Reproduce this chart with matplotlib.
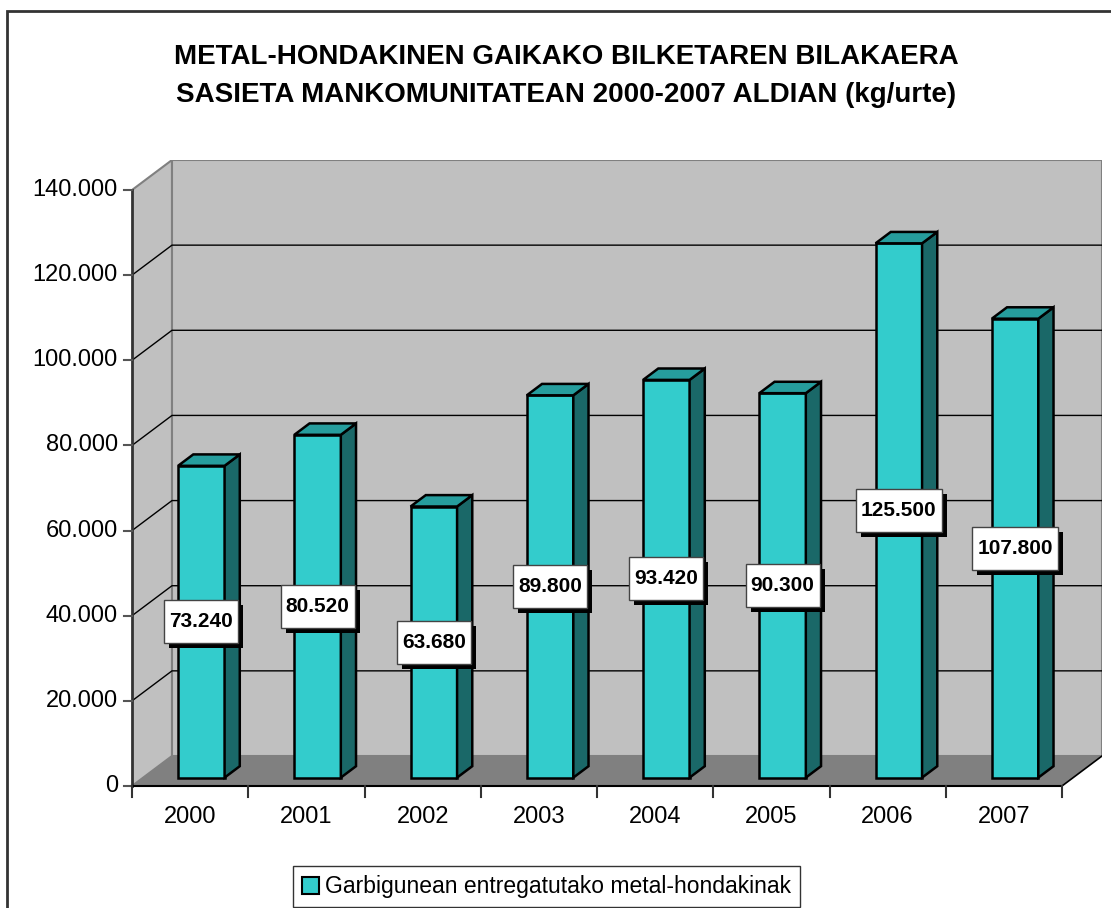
import matplotlib
matplotlib.use("Agg")
import matplotlib.pyplot as plt
from matplotlib.patches import Polygon, Rectangle
from matplotlib.patches import Patch
from matplotlib.transforms import IdentityTransform

plt.rcParams['font.family'] = ['Liberation Sans', 'DejaVu Sans']

years = ["2000", "2001", "2002", "2003", "2004", "2005", "2006", "2007"]
values = [73240, 80520, 63680, 89800, 93420, 90300, 125500, 107800]
labels = ["73.240", "80.520", "63.680", "89.800", "93.420", "90.300", "125.500", "107.800"]
yticks = [0, 20000, 40000, 60000, 80000, 100000, 120000, 140000]
ytick_labels = ["0", "20.000", "40.000", "60.000", "80.000", "100.000", "120.000", "140.000"]
title = ("METAL-HONDAKINEN GAIKAKO BILKETAREN BILAKAERA\n"
         "SASIETA MANKOMUNITATEAN 2000-2007 ALDIAN (kg/urte)")
legend_label = "Garbigunean entregatutako metal-hondakinak"

W, H = 1111, 908
fig = plt.figure(figsize=(W / 100, H / 100), dpi=100)
fig.patch.set_facecolor("white")

# front plane: x 0..8 -> px 132..1062, y 0..140000 -> px 786..190
px_x = (1062 - 132) / 8.0
px_y = (786 - 190) / 140000.0
D = 40 / px_x          # depth shift in category units
DY = 30 / px_y         # depth shift in value units
ymax = 140000

ax = fig.add_axes([132 / W, (H - 786) / H, (970) / W, (626) / H])
ax.set_xlim(0, 8 + D)
ax.set_ylim(0, ymax + DY)
ax.axis("off")

# walls
ax.add_patch(Polygon([(0, 0), (D, DY), (D, ymax + DY), (0, ymax)],
                     closed=True, fc="#C0C0C0", ec="#808080", lw=1.5, zorder=1))
ax.add_patch(Rectangle((D, DY), 8, ymax, fc="#C0C0C0", ec="#808080", lw=1.5, zorder=1))
ax.add_patch(Polygon([(0, 0), (8, 0), (8 + D, DY), (D, DY)],
                     closed=True, fc="#808080", ec="none", zorder=1))
ax.plot([8, 8 + D], [0, DY], color="black", lw=1.2, zorder=2)

# gridlines
for t in yticks[1:-1]:
    ax.plot([0, D, 8 + D], [t, t + DY, t + DY], color="black", lw=1, zorder=2)

# axes lines and ticks
ax.plot([0, 0], [0, ymax], color="#333333", lw=2, zorder=3, clip_on=False)
ax.plot([0, 8], [0, 0], color="black", lw=1.5, zorder=3, clip_on=False)
tick_dx = 8 / px_x
for t, lab in zip(yticks, ytick_labels):
    ax.plot([-tick_dx, 0], [t, t], color="#555555", lw=1.5, clip_on=False, zorder=3)
    ax.text(-14 / px_x, t, lab, ha="right", va="center", fontsize=17, clip_on=False)
tick_dy = 11 / px_y
for i in range(9):
    ax.plot([i, i], [0, -tick_dy], color="#333333", lw=1.5, clip_on=False, zorder=3)
for i, y in enumerate(years):
    ax.text(i + 0.5, -31 / px_y, y, ha="center", va="center", fontsize=17, clip_on=False)

# bars
f0 = 0.28
bd = 0.38
bw = 0.4
front = "#33CCCC"
top_c = "#269D9D"
side_c = "#1A6868"
for i, v in enumerate(values):
    xl = i + 0.5 - bw / 2 + f0 * D
    xr = xl + bw
    y0 = f0 * DY
    yt = v + f0 * DY
    ax.bar(xl + bw / 2, v, width=bw, bottom=y0, color=front, edgecolor="black",
           lw=1.8, zorder=4)
    ax.add_patch(Polygon([(xr, y0), (xr + bd * D, y0 + bd * DY),
                          (xr + bd * D, yt + bd * DY), (xr, yt)],
                         closed=True, fc=side_c, ec="black", lw=1.8, zorder=4))
    ax.add_patch(Polygon([(xl, yt), (xr, yt), (xr + bd * D, yt + bd * DY),
                          (xl + bd * D, yt + bd * DY)],
                         closed=True, fc=top_c, ec="black", lw=1.8, zorder=4))

# data labels
texts = []
for i, (v, lab) in enumerate(zip(values, labels)):
    cx = i + 0.5 + f0 * D
    cy = v / 2 + f0 * DY
    t = ax.text(cx, cy, lab, ha="center", va="center", fontsize=15,
                fontweight="bold", zorder=8)
    texts.append(t)

fig.canvas.draw()
rend = fig.canvas.get_renderer()
for t in texts:
    ext = t.get_window_extent(rend)
    cxp = (ext.x0 + ext.x1) / 2
    cyp = (ext.y0 + ext.y1) / 2
    bwp = ext.width + 10
    bhp = 43
    ax.add_patch(Rectangle((cxp - bwp / 2 + 5, cyp - bhp / 2 - 5), bwp, bhp,
                           transform=IdentityTransform(), fc="black", ec="none",
                           zorder=6, clip_on=False))
    ax.add_patch(Rectangle((cxp - bwp / 2, cyp - bhp / 2), bwp, bhp,
                           transform=IdentityTransform(), fc="white", ec="#444444",
                           lw=1, zorder=7, clip_on=False))

# title
fig.text(566 / W, 1 - 76 / H, title, ha="center", va="center", fontsize=20,
         fontweight="bold", linespacing=1.55)

# legend
leg = fig.legend(handles=[Patch(fc=front, ec="black", lw=1.5)], labels=[legend_label],
                 loc="upper left", bbox_to_anchor=(293 / W, 1 - 866 / H),
                 fontsize=16.5, frameon=True, fancybox=False, edgecolor="black",
                 borderaxespad=0, handlelength=0.75, handleheight=0.75,
                 handletextpad=0.25, borderpad=0.4)
leg.get_frame().set_linewidth(1)

# outer border
fig.patches.append(Rectangle((7, H - 11 - 1000), 1200, 1000, transform=None,
                             fc="none", ec="#333333", lw=2, zorder=10))

fig.savefig("out.png", dpi=100)
